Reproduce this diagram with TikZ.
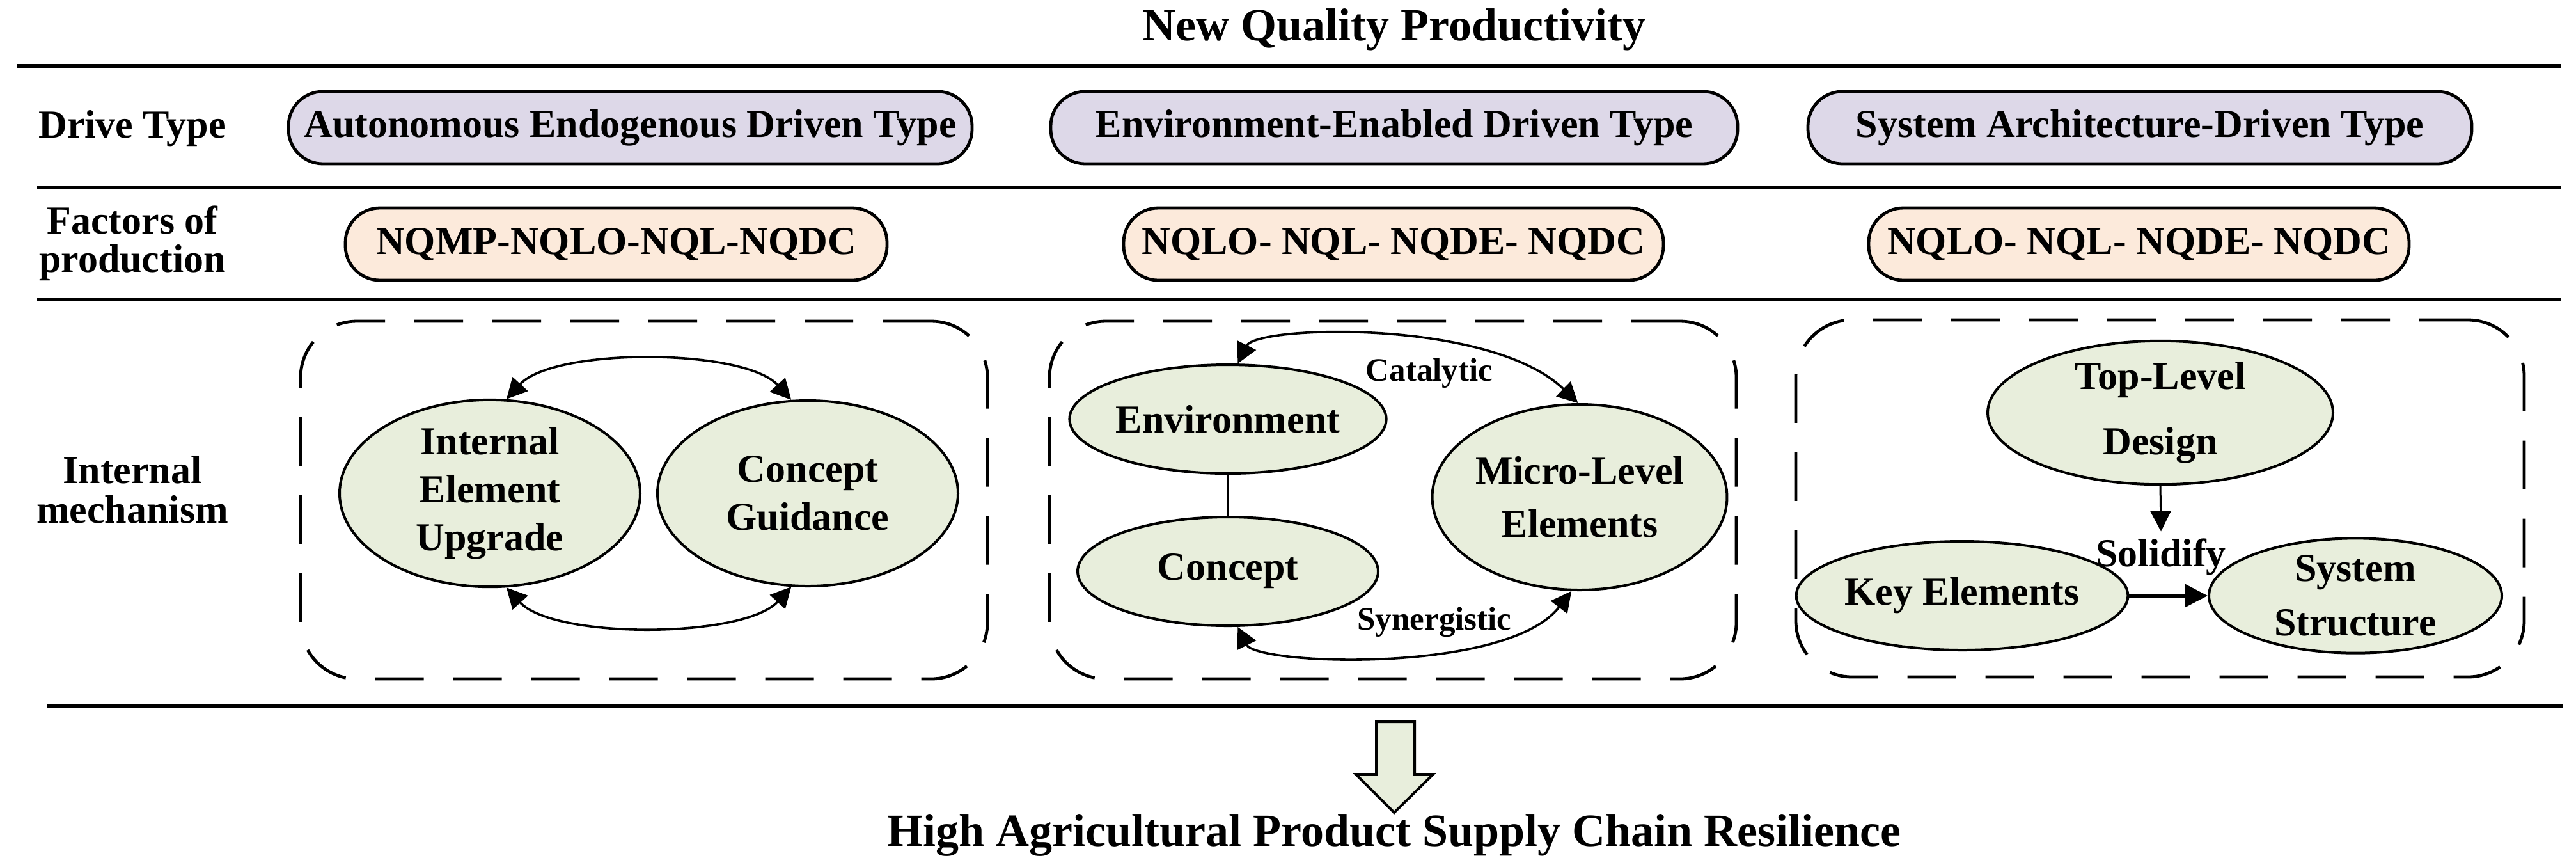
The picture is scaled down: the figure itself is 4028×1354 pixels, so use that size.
\documentclass[tikz,border=0pt]{standalone}
\usepackage{fontspec}
\setmainfont{Liberation Serif}
\usetikzlibrary{shapes.geometric,arrows.meta}
\definecolor{lav}{RGB}{221,216,232}
\definecolor{peach}{RGB}{252,234,219}
\definecolor{lgreen}{RGB}{232,238,220}
\tikzset{
 rule/.style={line width=1.3pt},
 drivebox/.style={draw, line width=1.2pt, fill=lav, rounded corners=13.5pt, minimum height=28.25pt, inner sep=0pt, font=\fontsize{15.5}{18}\selectfont\bfseries},
 factbox/.style={drivebox, fill=peach},
 rowlabel/.style={align=center, inner sep=0pt, font=\fontsize{15.5}{15}\selectfont\bfseries},
 mechbox/.style={draw, line width=1.2pt, dash pattern=on 19pt off 11.5pt, rounded corners=22pt, inner sep=0pt},
 ell/.style={ellipse, draw, line width=1pt, fill=lgreen, inner sep=0pt, align=center, font=\fontsize{15.5}{18.75}\selectfont\bfseries},
 curvearr/.style={line width=0.9pt, {Triangle[length=8pt,width=8pt]}-{Triangle[length=8pt,width=8pt]}},
 edgelabel/.style={font=\fontsize{12.75}{14}\selectfont\bfseries, inner sep=0pt},
 bigtext/.style={font=\fontsize{18}{20}\selectfont\bfseries, anchor=base, inner sep=0pt},
}
\begin{document}
\begin{tikzpicture}[x=0.25pt,y=-0.25pt]
\useasboundingbox (0,0) rectangle (4028,1354);
% title
\node[bigtext] (title) at (2180,63) {New Quality Productivity};
% rules
\draw[rule] (27,103) -- (4004,103);
\draw[rule] (58,293) -- (4004,293);
\draw[rule] (58,468) -- (4004,468);
\draw[rule] (74,1103) -- (4007,1103);
% row labels
\node[rowlabel, anchor=base] (lDrive) at (207,215) {Drive Type};
\node[rowlabel] (lFact) at (207,380) {Factors of\\production};
\node[rowlabel, font=\fontsize{15.5}{15.5}\selectfont\bfseries] (lMech) at (207,765) {Internal\\mechanism};
% drive types
\node[drivebox, minimum width=267.25pt] (d1) at (985.5,199.5) {Autonomous Endogenous Driven Type};
\node[drivebox, minimum width=268.5pt] (d2) at (2180,199.5) {Environment-Enabled Driven Type};
\node[drivebox, minimum width=259.5pt] (d3) at (3346,199.5) {System Architecture-Driven Type};
% factors
\node[factbox, minimum width=211.75pt] (f1) at (963.5,381.5) {NQMP-NQLO-NQL-NQDC};
\node[factbox, minimum width=211pt] (f2) at (2179,381.5) {NQLO- NQL- NQDE- NQDC};
\node[factbox, minimum width=211.25pt] (f3) at (3344.5,381.5) {NQLO- NQL- NQDE- NQDC};
% mechanism frames
\node[mechbox, minimum width=268.5pt, minimum height=139.75pt] (m1) at (1007,781.5) {};
\node[mechbox, minimum width=268.5pt, minimum height=139.75pt] (m2) at (2178,781.5) {};
\node[mechbox, minimum width=284.75pt, minimum height=139.5pt] (m3) at (3377.5,779) {};
% column 1
\node[ell, minimum width=117.5pt, minimum height=72.5pt] (ieu) at (766,771) {Internal\\Element\\Upgrade};
\node[ell, minimum width=117.5pt, minimum height=72.5pt] (cg) at (1263,771) {Concept\\Guidance};
\draw[curvearr] (ieu.80) .. controls +(74,-81) and +(-74,-81) .. (cg.100);
\draw[curvearr] (ieu.-80) .. controls +(74,81) and +(-74,81) .. (cg.-100);
% column 2
\node[ell, minimum width=117.5pt, minimum height=42.5pt] (env) at (1920,655) {Environment};
\node[ell, minimum width=117.5pt, minimum height=42.5pt] (con) at (1920,893) {Concept};
\node[ell, minimum width=109pt, minimum height=72.5pt, font=\fontsize{15.5}{20.75}\selectfont\bfseries] (mic) at (2470,777) {Micro-Level\\Elements};
\draw[line width=0.5pt] (env.south) -- (con.north);
\draw[curvearr] (env.80) .. controls +(30,-60) and +(-136,-132) .. (mic.91);
\draw[curvearr] (con.-80) .. controls +(30,60) and +(-100,130) .. (mic.-95);
\node[edgelabel] (cat) at (2235,583) {Catalytic};
\node[edgelabel] (syn) at (2243,972) {Synergistic};
% column 3
\node[ell, minimum width=135pt, minimum height=53.25pt, font=\fontsize{15.5}{25.5}\selectfont\bfseries] (tld) at (3378,645) {Top-Level\\Design};
\node[ell, minimum width=116.5pt, minimum height=42.5pt] (ke) at (3068,931) {Key Elements};
\node[ell, minimum width=114.5pt, minimum height=42.5pt, font=\fontsize{15.5}{21.25}\selectfont\bfseries] (ss) at (3683,931) {System\\Structure};
\node[font=\fontsize{15.5}{18}\selectfont\bfseries, inner sep=2.5pt, anchor=base] (sol) at (3379,885) {Solidify};
\draw[line width=0.75pt, -{Triangle[length=8pt,width=8pt]}] (tld.south) -- (sol.north);
\draw[line width=1.25pt, -{Triangle[length=8.75pt,width=8.75pt]}] (ke.east) -- (ss.west);
% block arrow
\draw[line width=1pt, fill=lgreen] (2152,1128) -- (2212,1128) -- (2212,1210) -- (2241,1210) -- (2180,1270) -- (2120,1210) -- (2152,1210) -- cycle;
\node[bigtext] (res) at (2180,1322) {High Agricultural Product Supply Chain Resilience};
\end{tikzpicture}
\end{document}
